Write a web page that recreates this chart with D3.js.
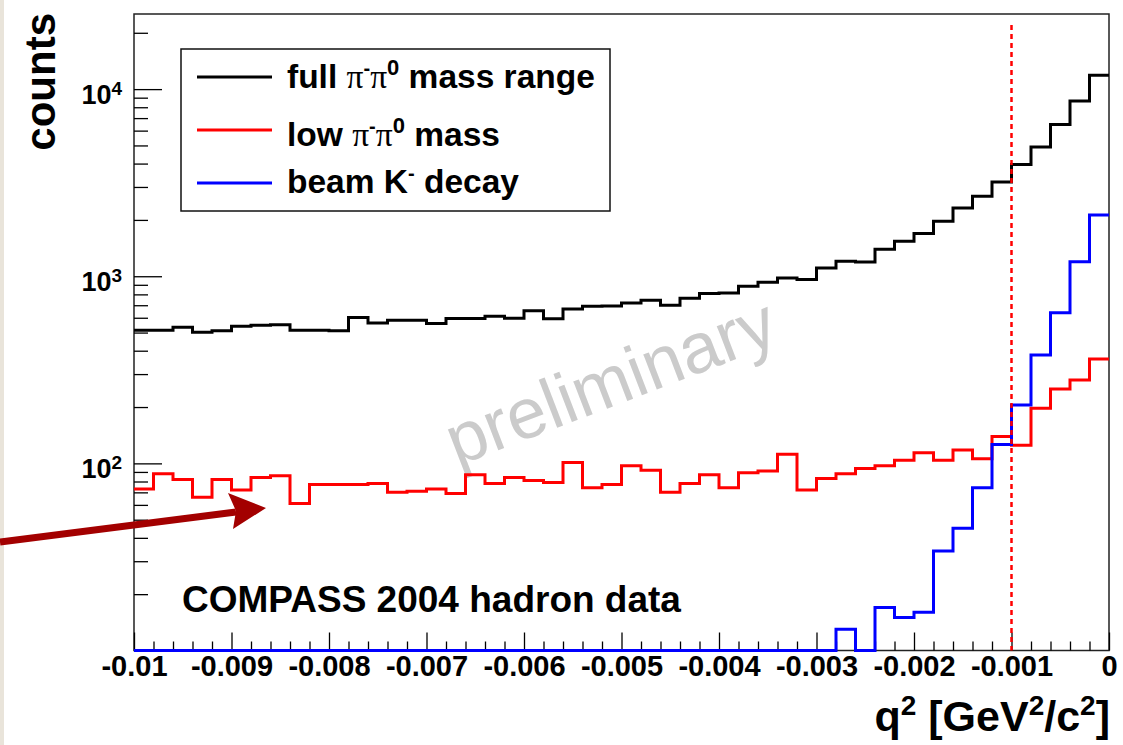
<!DOCTYPE html>
<html>
<head>
<meta charset="utf-8">
<script src="https://cdn.jsdelivr.net/npm/d3@7"></script>
<style>
body { margin: 0; background: #fff; }
svg { display: block; font-family: "Liberation Sans", Arial, Helvetica, sans-serif; }
</style>
</head>
<body>
<svg id="chart" width="1123" height="745"></svg>
<script>
// q^2 histograms, 50 bins of 0.0002 GeV^2/c^2 from -0.01 to 0

var binStart = -0.01;
var binWidth = 0.0002;

// counts per bin
var fullMass = [515, 515, 534, 502, 511, 540, 547, 551, 515, 515,
                511, 602, 563, 582, 582, 559, 594, 594, 611, 596,
                654, 593, 669, 691, 693, 720, 744, 700, 763, 808,
                814, 884, 929, 979, 960, 1108, 1203, 1192, 1394, 1538,
                1691, 1968, 2318, 2677, 3192, 3954, 4911, 6470, 8648, 11865];

var lowMass = [73, 88, 82, 66, 82, 72, 84, 86, 61, 77,
               77, 77, 78, 70, 71, 73, 69, 87, 78, 84,
               81, 79, 101, 74, 77, 97, 92, 70, 78, 87,
               74, 89, 91, 112, 72, 83, 88, 94, 97, 104,
               114, 104, 118, 106, 139, 125, 197, 250, 279, 361];

var kaonDecay = [0, 0, 0, 0, 0, 0, 0, 0, 0, 0,
                 0, 0, 0, 0, 0, 0, 0, 0, 0, 0,
                 0, 0, 0, 0, 0, 0, 0, 0, 0, 0,
                 0, 0, 0, 0, 0, 0, 13, 0, 17, 15,
                 16, 34, 45, 74, 126, 205, 379, 638, 1195, 2124];

var xTickValues = [-0.01, -0.009, -0.008, -0.007, -0.006, -0.005, -0.004, -0.003, -0.002, -0.001, 0];
var xTickLabels = ["-0.01", "-0.009", "-0.008", "-0.007", "-0.006", "-0.005", "-0.004", "-0.003", "-0.002", "-0.001", "0"];
var yTickValues = [100, 1000, 10000];
var yTickExponents = ["2", "3", "4"];

var cutValue = -0.001;   // vertical dashed line
var cutTop = 22000;

var series = [
  { name: "full", values: fullMass, color: "#000000" },
  { name: "low", values: lowMass, color: "#ff0000" },
  { name: "kaon", values: kaonDecay, color: "#0000ff" }
];

var svg = d3.select("#chart");
var W = 1123, H = 745;
// note: "top" clashes with window.top, so prefixed names
var pLeft = 134, pRight = 1109, pTop = 14, pBottom = 650.5;

var x = d3.scaleLinear().domain([-0.01, 0]).range([pLeft, pRight]);
var y = d3.scaleLog().domain([10, 25200]).range([pBottom, pTop]);

// faint page edge
svg.append("rect").attr("x", 0).attr("y", 0).attr("width", 4).attr("height", H).attr("fill", "#e9e4da");

// watermark
svg.append("text")
  .attr("transform", "translate(619,404) rotate(-21)")
  .attr("text-anchor", "middle")
  .attr("font-size", 71)
  .attr("fill", "#cbcbcb")
  .text("preliminary");

// frame (under the histograms, empty blue bins sit on the bottom edge)
svg.append("rect")
  .attr("x", pLeft).attr("y", pTop)
  .attr("width", pRight - pLeft).attr("height", pBottom - pTop)
  .attr("fill", "none").attr("stroke", "#222").attr("stroke-width", 1.5);

// histograms as steps
function stepPoints(vals) {
  var pts = vals.map(function(v, i) { return [binStart + i * binWidth, v]; });
  pts.push([binStart + vals.length * binWidth, vals[vals.length - 1]]);
  return pts;
}
var line = d3.line()
  .x(function(d) { return x(d[0]); })
  .y(function(d) { return y(Math.max(d[1], 10)); })
  .curve(d3.curveStepAfter);

// axes (ticks point into the frame)
var minorX = d3.range(0, 51).map(function(i) { return binStart + i * binWidth; })
  .filter(function(v) { return Math.abs(Math.round(v * 1000) - v * 1000) > 1e-6; });

svg.append("g")
  .attr("transform", "translate(0," + pBottom + ")")
  .call(d3.axisBottom(x).tickValues(minorX).tickSize(-9).tickFormat(""))
  .call(function(g) { g.select(".domain").remove(); g.selectAll("line").attr("stroke", "#000").attr("stroke-width", 1.3); });

svg.append("g")
  .attr("transform", "translate(0," + pBottom + ")")
  .call(d3.axisBottom(x).tickValues(xTickValues).tickSize(-18).tickPadding(5)
        .tickFormat(function(d, i) { return xTickLabels[i]; }))
  .call(function(g) {
    g.select(".domain").remove();
    g.selectAll("line").attr("stroke", "#000").attr("stroke-width", 1.3);
    g.selectAll("text").attr("font-size", 29).attr("font-weight", "bold").attr("fill", "#000")
      .attr("font-family", "'Liberation Sans', Arial, sans-serif");
  });

var minorY = y.ticks().filter(function(v) { return yTickValues.indexOf(v) < 0; });
svg.append("g")
  .attr("transform", "translate(" + pLeft + ",0)")
  .call(d3.axisLeft(y).tickValues(minorY).tickSize(-14).tickFormat(""))
  .call(function(g) { g.select(".domain").remove(); g.selectAll("line").attr("stroke", "#000").attr("stroke-width", 1.3); });

svg.append("g")
  .attr("transform", "translate(" + pLeft + ",0)")
  .call(d3.axisLeft(y).tickValues(yTickValues).tickSize(-28).tickFormat(""))
  .call(function(g) { g.select(".domain").remove(); g.selectAll("line").attr("stroke", "#000").attr("stroke-width", 1.3); });

var yLab = svg.append("g").selectAll("text").data(yTickValues).join("text")
  .attr("x", 122)
  .attr("y", function(d) { return y(d) + 15; })
  .attr("text-anchor", "end")
  .attr("font-weight", "bold")
  .attr("font-size", 27);
yLab.append("tspan").text("10");
yLab.append("tspan").attr("dy", -9).attr("font-size", 19).text(function(d, i) { return yTickExponents[i]; });

// histogram lines
svg.append("g").selectAll("path").data(series).join("path")
  .attr("d", function(s) { return line(stepPoints(s.values)); })
  .attr("fill", "none")
  .attr("stroke", function(s) { return s.color; })
  .attr("stroke-width", 3);

// cut line
svg.append("line")
  .attr("x1", x(cutValue)).attr("x2", x(cutValue))
  .attr("y1", y(cutTop)).attr("y2", pBottom)
  .attr("stroke", "#ff0000").attr("stroke-width", 2.5)
  .attr("stroke-dasharray", "5,4");

// legend
var legend = svg.append("g");
legend.append("rect")
  .attr("x", 181).attr("y", 49).attr("width", 429).attr("height", 162)
  .attr("fill", "#fff").attr("stroke", "#111").attr("stroke-width", 1.5);

var legendRows = [77, 130, 183];
var legendBase = [88, 146, 193];
var serif = "'Liberation Serif', 'DejaVu Serif', serif";
series.forEach(function(s, i) {
  var ry = legendRows[i];
  legend.append("line")
    .attr("x1", 197).attr("x2", 272).attr("y1", ry).attr("y2", ry)
    .attr("stroke", s.color).attr("stroke-width", 3);
  var t = legend.append("text")
    .attr("x", 287).attr("y", legendBase[i])
    .attr("font-size", 33.5).attr("font-weight", "bold");
  if (s.name === "full" || s.name === "low") {
    t.append("tspan").text(s.name === "full" ? "full " : "low ");
    t.append("tspan").attr("font-family", serif).attr("font-weight", "normal").text("π");
    t.append("tspan").attr("dy", -13).attr("font-size", 20).text("-");
    t.append("tspan").attr("dy", 13).attr("font-family", serif).attr("font-weight", "normal").text("π");
    t.append("tspan").attr("dy", -13).attr("font-size", 22).text("0");
    t.append("tspan").attr("dy", 13).text(s.name === "full" ? " mass range" : " mass");
  } else {
    t.append("tspan").text("beam K");
    t.append("tspan").attr("dy", -13).attr("font-size", 20).text("-");
    t.append("tspan").attr("dy", 13).text(" decay");
  }
});

// caption
svg.append("text")
  .attr("x", 182).attr("y", 612)
  .attr("font-size", 37).attr("font-weight", "bold")
  .text("COMPASS 2004 hadron data");

// axis titles
svg.append("text")
  .attr("transform", "translate(55,13) rotate(-90)")
  .attr("text-anchor", "end")
  .attr("font-size", 42).attr("font-weight", "bold")
  .text("counts");

var xt = svg.append("text")
  .attr("x", 1110).attr("y", 731)
  .attr("text-anchor", "end")
  .attr("font-size", 43).attr("font-weight", "bold");
xt.append("tspan").text("q");
xt.append("tspan").attr("dy", -16).attr("font-size", 28).text("2");
xt.append("tspan").attr("dy", 16).text(" [GeV");
xt.append("tspan").attr("dy", -16).attr("font-size", 28).text("2");
xt.append("tspan").attr("dy", 16).text("/c");
xt.append("tspan").attr("dy", -16).attr("font-size", 28).text("2");
xt.append("tspan").attr("dy", 16).text("]");

// arrow
var arrowColor = "#a30000";
svg.append("line")
  .attr("x1", 0).attr("y1", 542).attr("x2", 236).attr("y2", 512)
  .attr("stroke", arrowColor).attr("stroke-width", 7);
svg.append("path")
  .attr("d", "M266,508 L228,493 L236,511 L233,529 Z")
  .attr("fill", arrowColor);
</script>
</body>
</html>
